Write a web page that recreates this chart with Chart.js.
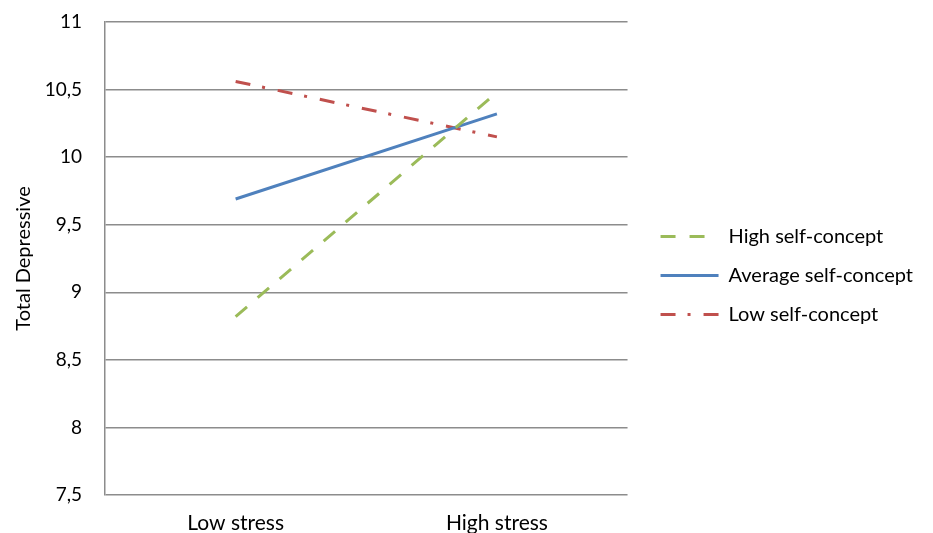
<!DOCTYPE html>
<html>
<head>
<meta charset="utf-8">
<script src="https://cdn.jsdelivr.net/npm/chart.js@4/dist/chart.umd.min.js"></script>
<style>
  html, body { margin: 0; padding: 0; background: #fff; }
  #wrap { width: 933px; height: 533px; }
</style>
</head>
<body>
<div id="wrap"><canvas id="chart"></canvas></div>
<script>
// ── Data ─────────────────────────────────────────────────────────────────────
const categories  = ['Low stress', 'High stress'];
const highSelf    = [8.82, 10.48];
const averageSelf = [9.69, 10.32];
const lowSelf     = [10.56, 10.15];
const yTicks      = [7.5, 8, 8.5, 9, 9.5, 10, 10.5, 11];

const FONT = 'Lato, "Open Sans", sans-serif';

// legend items drawn as short line samples that keep each series' dash
function lineLegendItems(chart) {
  return Chart.defaults.plugins.legend.labels.generateLabels(chart).map((item, i) => {
    const ds = chart.data.datasets[i];
    return Object.assign(item, {
      pointStyle: 'line',
      lineDash: ds.borderDash || [],
      lineWidth: ds.borderWidth,
      strokeStyle: ds.borderColor,
    });
  });
}

// nudge the legend a bit away from the plot, like the original
const legendShift = {
  id: 'legendShift',
  afterLayout(chart) {
    chart.legend.left += 14;
    chart.legend.right += 14;
    chart.legend.top -= 2;
    chart.legend.bottom -= 2;
  }
};

// ── Chart ────────────────────────────────────────────────────────────────────
new Chart(document.getElementById('chart'), {
  type: 'line',
  data: {
    labels: categories,
    datasets: [
      {
        label: 'High self-concept',
        data: highSelf,
        borderColor: '#9bbb59',
        borderWidth: 3,
        borderDash: [15, 14],
        pointRadius: 0,
      },
      {
        label: 'Average self-concept',
        data: averageSelf,
        borderColor: '#4f81bd',
        borderWidth: 3,
        pointRadius: 0,
      },
      {
        label: 'Low self-concept',
        data: lowSelf,
        borderColor: '#c0504d',
        borderWidth: 3,
        borderDash: [15, 12, 3, 13],
        pointRadius: 0,
      }
    ]
  },
  plugins: [legendShift],
  options: {
    responsive: true,
    maintainAspectRatio: false,
    animation: false,
    layout: { padding: { top: 22, right: 24, left: 0, bottom: 0 } },
    plugins: {
      tooltip: { enabled: false },
      legend: {
        position: 'right',
        maxWidth: 400,
        labels: {
          usePointStyle: true,
          pointStyleWidth: 58,
          padding: 19,
          color: '#000',
          font: { family: FONT, size: 20 },
          generateLabels: lineLegendItems,
        }
      }
    },
    scales: {
      x: {
        offset: true,
        grid: { display: false, drawTicks: false },
        border: { display: false },
        ticks: { color: '#000', padding: 16, font: { family: FONT, size: 21 } },
        afterFit: scale => { scale.height = 38; }
      },
      y: {
        min: 7.5,
        max: 11,
        afterBuildTicks: scale => { scale.ticks = yTicks.map(v => ({ value: v })); },
        grid: { color: '#8c8c8c', lineWidth: 1.5, drawTicks: true, tickLength: 21, tickColor: 'rgba(0,0,0,0)' },
        border: { color: '#8c8c8c', width: 1.5 },
        ticks: {
          color: '#000',
          padding: 2,
          font: { family: FONT, size: 19 },
          callback: v => String(v).replace('.', ',')
        },
        title: {
          display: true,
          text: 'Total Depressive',
          color: '#000',
          padding: { top: 12, bottom: 0 },
          font: { family: FONT, size: 20 }
        },
        afterFit: scale => { scale.width = 105; }
      }
    }
  }
});
</script>
</body>
</html>
